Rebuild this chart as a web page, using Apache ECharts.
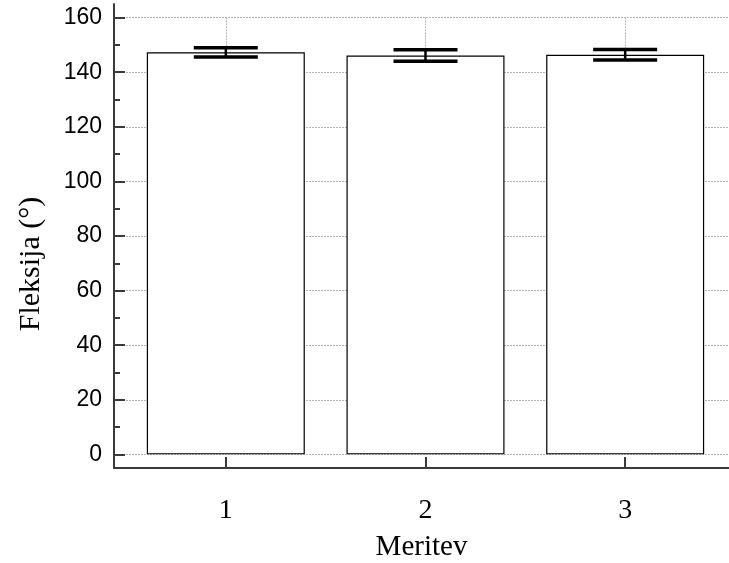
<!DOCTYPE html>
<html>
<head>
<meta charset="utf-8">
<script src="https://cdn.jsdelivr.net/npm/echarts@6/dist/echarts.min.js"></script>
<style>html,body{margin:0;padding:0;background:#fff}#c{width:729px;height:563px}</style>
</head>
<body>
<div id="c"></div>
<script>
var categories = [1, 2, 3];
var means = [147.3, 146.1, 146.4];
var errors = [1.7, 2.1, 1.9];
var yMajorTicks = [0, 20, 40, 60, 80, 100, 120, 140, 160];
var yMinorTicks = [10, 30, 50, 70, 90, 110, 130, 150];
var xTitle = 'Meritev';
var yTitle = 'Fleksija (°)';

var barData = categories.map(function (c, i) { return [c, means[i]]; });
var errData = categories.map(function (c, i) { return [c, means[i] - errors[i], means[i] + errors[i]]; });
var vGrid = categories.map(function (c) {
  return [{ coord: [c, yMajorTicks[0]] }, { coord: [c, yMajorTicks[yMajorTicks.length - 1]] }];
});

var axisColor = '#3a3a3a';
var chart = echarts.init(document.getElementById('c'), null, { renderer: 'canvas' });
chart.setOption({
  animation: false,
  backgroundColor: '#ffffff',
  grid: { left: 114, right: 0, top: 4, bottom: 95, containLabel: false, outerBoundsMode: 'none' },
  xAxis: {
    type: 'value', min: 0.44, max: 3.52,
    name: xTitle, nameLocation: 'middle', nameGap: 65,
    nameTextStyle: { fontFamily: 'Liberation Serif', fontSize: 29, color: '#000' },
    axisLine: { show: true, onZero: false, lineStyle: { color: axisColor, width: 2 } },
    axisTick: { show: true, inside: true, length: 11, customValues: categories, lineStyle: { color: axisColor, width: 2 } },
    axisLabel: { customValues: categories, margin: 29, fontFamily: 'Liberation Serif', fontSize: 28, color: '#000' },
    splitLine: { show: false }
  },
  yAxis: [{
    type: 'value', min: -5, max: 165,
    name: yTitle, nameLocation: 'middle', nameGap: 68, nameRotate: 90,
    nameTextStyle: { fontFamily: 'Liberation Serif', fontSize: 30, color: '#000', padding: [0, 56, 0, 0] },
    axisLine: { show: true, onZero: false, lineStyle: { color: axisColor, width: 2 } },
    axisTick: { show: true, inside: true, length: 11, customValues: yMajorTicks, lineStyle: { color: axisColor, width: 2 } },
    axisLabel: { customValues: yMajorTicks, margin: 12, fontFamily: 'Liberation Sans', fontSize: 23, color: '#000' },
    splitLine: { show: true, lineStyle: { color: '#b5b5b5', width: 1, type: [2, 1] } }
  }, {
    type: 'value', min: -5, max: 165, position: 'left', offset: 0,
    axisLine: { show: false },
    axisTick: { show: true, inside: true, length: 6, customValues: yMinorTicks, lineStyle: { color: axisColor, width: 2 } },
    axisLabel: { show: false },
    splitLine: { show: false }
  }],
  series: [{
    type: 'line', data: [], z: 1, silent: true,
    markLine: {
      silent: true, symbol: 'none', z: 1, label: { show: false },
      lineStyle: { color: '#b5b5b5', width: 1, type: [2, 1] },
      data: vGrid
    }
  }, {
    type: 'bar', data: barData, barWidth: 158, z: 2,
    itemStyle: { color: '#ffffff', borderColor: '#000000', borderWidth: 1.2 }
  }, {
    type: 'custom', data: errData, z: 3,
    renderItem: function (params, api) {
      var lo = api.coord([api.value(0), api.value(1)]);
      var hi = api.coord([api.value(0), api.value(2)]);
      var hw = 32;
      var st = { stroke: '#000', lineWidth: 3.5 };
      return {
        type: 'group',
        children: [
          { type: 'line', shape: { x1: lo[0], y1: lo[1], x2: hi[0], y2: hi[1] }, style: { stroke: '#000', lineWidth: 2.5 } },
          { type: 'line', shape: { x1: lo[0] - hw, y1: lo[1], x2: lo[0] + hw, y2: lo[1] }, style: st },
          { type: 'line', shape: { x1: hi[0] - hw, y1: hi[1], x2: hi[0] + hw, y2: hi[1] }, style: st }
        ]
      };
    }
  }]
});
</script>
</body>
</html>
